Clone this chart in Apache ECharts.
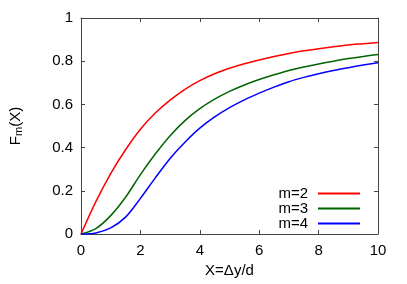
<!DOCTYPE html>
<html><head><meta charset="utf-8">
<script src="https://cdn.jsdelivr.net/npm/echarts@6/dist/echarts.min.js"></script>
<style>html,body{margin:0;padding:0;background:#fff}#c{width:407px;height:284px}</style>
</head><body><div id="c"></div>
<script>
const xValues = [0, 0.5, 1, 1.5, 2, 2.5, 3, 3.5, 4, 4.5, 5, 5.5, 6, 6.5, 7, 7.5, 8, 8.5, 9, 9.5, 10];
const m2 = [0, 0.15, 0.28, 0.39, 0.485, 0.56, 0.62, 0.67, 0.71, 0.742, 0.767, 0.788, 0.806, 0.822, 0.836, 0.848, 0.858, 0.867, 0.875, 0.881, 0.887];
const m3 = [0, 0.025, 0.085, 0.17, 0.275, 0.37, 0.455, 0.525, 0.58, 0.624, 0.66, 0.69, 0.715, 0.737, 0.757, 0.773, 0.787, 0.80, 0.812, 0.822, 0.831];
const m4 = [0, 0.005, 0.028, 0.078, 0.165, 0.26, 0.35, 0.425, 0.49, 0.542, 0.585, 0.621, 0.652, 0.68, 0.705, 0.725, 0.742, 0.757, 0.77, 0.782, 0.793];
const seriesNames = ['m=2', 'm=3', 'm=4'];
const seriesColors = ['#ff0000', '#006400', '#0000ff'];
const xTicks = [0, 2, 4, 6, 8, 10];
const yTicks = [0, 0.2, 0.4, 0.6, 0.8, 1];

const FONT = 'Liberation Sans';
const border = '#444';
const chart = echarts.init(document.getElementById('c'), null, {renderer: 'canvas'});
const pairs = arr => xValues.map((x, i) => [x, arr[i]]);
const allData = [m2, m3, m4];

const baseAxis = {
  axisLine: {show: true, onZero: false, lineStyle: {color: border, width: 1}},
  axisTick: {show: true, inside: true, length: 4, lineStyle: {color: border}},
  splitLine: {show: false},
};

chart.setOption({
  animation: false,
  textStyle: {fontFamily: FONT},
  grid: {left: 77, right: 29, top: 18, bottom: 50, containLabel: false},
  legend: {
    orient: 'vertical', align: 'right', right: 42, top: 181,
    itemWidth: 42, itemHeight: 2, itemGap: 0, icon: 'rect',
    textStyle: {fontFamily: FONT, fontSize: 15, color: '#000', lineHeight: 15, padding: [0, 5, 0, 0]},
    data: seriesNames
  },
  xAxis: [
    Object.assign({}, baseAxis, {
      type: 'value', min: 0, max: 10, interval: 2, position: 'bottom',
      axisLabel: {fontFamily: FONT, fontSize: 15, color: '#000', margin: 9,
        formatter: v => xTicks.includes(v) ? String(v) : ''},
      name: 'X=Δy/d', nameLocation: 'middle', nameGap: 28,
      nameTextStyle: {fontFamily: FONT, fontSize: 15, color: '#000'}
    }),
    Object.assign({}, baseAxis, {
      type: 'value', min: 0, max: 10, interval: 2, position: 'top',
      axisLabel: {show: false}
    })
  ],
  yAxis: [
    Object.assign({}, baseAxis, {
      type: 'value', min: 0, max: 1, interval: 0.2, position: 'left',
      axisLabel: {fontFamily: FONT, fontSize: 15, color: '#000', margin: 8,
        formatter: v => { const t = yTicks.find(k => Math.abs(k - v) < 1e-9); return t === undefined ? '' : String(t); }},
      name: 'F{sub|m}(X)', nameLocation: 'middle', nameGap: 57, nameRotate: 90,
      nameTextStyle: {fontFamily: FONT, fontSize: 15, color: '#000',
        rich: {sub: {fontFamily: FONT, fontSize: 11, color: '#000', verticalAlign: 'bottom', padding: [6, 0, 0, 0]}}}
    }),
    Object.assign({}, baseAxis, {
      type: 'value', min: 0, max: 1, interval: 0.2, position: 'right',
      axisLabel: {show: false}
    })
  ],
  series: seriesNames.map((n, i) => ({
    name: n, type: 'line', xAxisIndex: 0, yAxisIndex: 0,
    data: pairs(allData[i]), smooth: 0.3,
    symbol: 'none', color: seriesColors[i],
    lineStyle: {color: seriesColors[i], width: 1.5}
  }))
});
</script></body></html>
